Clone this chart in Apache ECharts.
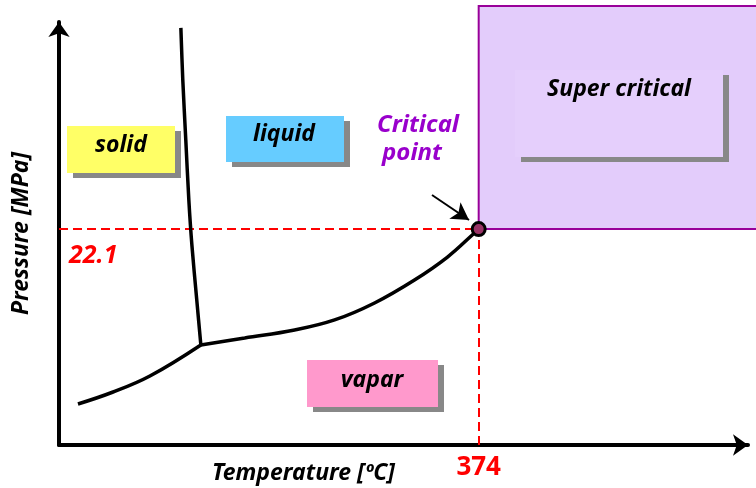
<!DOCTYPE html>
<html>
<head>
<meta charset="utf-8">
<script src="https://cdn.jsdelivr.net/npm/echarts@6/dist/echarts.min.js"></script>
<style>
  html, body { margin: 0; padding: 0; background: #fff; }
  #main { width: 756px; height: 488px; }
</style>
</head>
<body>
<div id="main"></div>
<script>
// phase diagram of water (schematic), temperature [C] vs pressure [MPa]
var criticalPoint = [374, 22.1];
var xTicks = [374];
var yTicks = [22.1];

// solid / liquid boundary (melting curve), from top down to the triple point
var fusionCurve = [
  [108.6, 42.7], [110.3, 37.4], [113.0, 31.2], [115.7, 25.1],
  [118.4, 20.5], [122.8, 14.8], [126.4, 10.24]
];
// solid / vapour boundary (sublimation curve)
var sublimationCurve = [
  [16.9, 4.2], [47.6, 5.4], [81.0, 7.06], [126.4, 10.24]
];
// liquid / vapour boundary, ends at the critical point
var vaporCurve = [
  [126.4, 10.24], [165.5, 10.95], [210.0, 11.77], [245.6, 12.8],
  [281.2, 14.54], [316.8, 16.89], [346.2, 19.24], [370.2, 21.7], [374, 22.1]
];

var FONT = '"Noto Sans", sans-serif';

function labelBox(x, y, w, h, fill, text, tx, ty) {
  return {
    type: 'group',
    children: [
      { type: 'rect', shape: { x: x + 6, y: y + 5, width: w, height: h }, style: { fill: '#888' }, z: 10 },
      { type: 'rect', shape: { x: x, y: y, width: w, height: h }, style: { fill: fill }, z: 11 },
      { type: 'text', x: tx, y: ty, z: 12,
        style: { text: text, fill: '#000', font: 'italic bold 23px ' + FONT, align: 'center', verticalAlign: 'middle' } }
    ]
  };
}

var chart = echarts.init(document.getElementById('main'));

var option = {
  animation: false,
  grid: { left: 59, right: 8, top: 22, bottom: 43, outerBoundsMode: 'none', containLabel: false },
  xAxis: {
    type: 'value', min: 0, max: 614,
    name: 'Temperature [ºC]',
    nameLocation: 'middle', nameGap: 17, nameMoveOverlap: false,
    nameTextStyle: { fontFamily: FONT, fontSize: 23, fontWeight: 'bold', fontStyle: 'italic', color: '#000', padding: [0, 200, 0, 0] },
    axisLine: { lineStyle: { color: '#000', width: 4 }, symbol: ['none', 'arrow'], symbolSize: [16, 15] },
    axisTick: { show: false },
    splitLine: { show: false },
    axisLabel: {
      customValues: xTicks, margin: 10,
      color: '#ff0000', fontFamily: FONT, fontSize: 26, fontWeight: 'bold'
    }
  },
  yAxis: {
    type: 'value', min: 0, max: 43.3,
    name: 'Pressure [MPa]',
    nameLocation: 'middle', nameGap: 26, nameMoveOverlap: false,
    nameTextStyle: { fontFamily: FONT, fontSize: 23, fontWeight: 'bold', fontStyle: 'italic', color: '#000' },
    axisLine: { lineStyle: { color: '#000', width: 4 }, symbol: ['none', 'arrow'], symbolSize: [16, 15] },
    axisTick: { show: false },
    splitLine: { show: false },
    axisLabel: {
      customValues: yTicks, inside: true, margin: 10,
      verticalAlign: 'top', padding: [14, 0, 0, 0],
      color: '#ff0000', fontFamily: FONT, fontSize: 25, fontWeight: 'bold', fontStyle: 'italic'
    }
  },
  series: [
    {
      // supercritical region: right of and above the critical point
      type: 'custom',
      z: 1,
      silent: true,
      data: [criticalPoint],
      renderItem: function (params, api) {
        var p = api.coord([api.value(0), api.value(1)]);
        var top = params.coordSys.y - 16;
        return {
          type: 'rect',
          shape: { x: p[0], y: top, width: api.getWidth() - p[0] + 10, height: p[1] - top },
          style: { fill: '#e3ccfb', stroke: '#990099', lineWidth: 2 }
        };
      }
    },
    {
      type: 'line', z: 3, data: fusionCurve, smooth: 0.3, symbol: 'none',
      lineStyle: { color: '#000', width: 3.5 },
      markLine: {
        silent: true, symbol: 'none', z: 2,
        label: { show: false },
        lineStyle: { color: '#ff0000', width: 2, type: [9, 5] },
        data: [
          [{ coord: [0, criticalPoint[1]] }, { coord: criticalPoint }],
          [{ coord: [criticalPoint[0], 0] }, { coord: criticalPoint }]
        ]
      }
    },
    {
      type: 'line', z: 3, data: sublimationCurve, smooth: 0.4, symbol: 'none',
      lineStyle: { color: '#000', width: 3.5 }
    },
    {
      type: 'line', z: 3, data: vaporCurve, smooth: 0.4, symbol: 'none',
      lineStyle: { color: '#000', width: 3.5 }
    },
    {
      type: 'scatter', z: 5, data: [criticalPoint],
      symbolSize: 13,
      itemStyle: { color: '#993366', borderColor: '#000', borderWidth: 3, opacity: 1 },
      markLine: {
        silent: true, symbol: ['none', 'arrow'], symbolSize: [15, 17],
        label: { show: false },
        lineStyle: { color: '#000', width: 2, type: 'solid' },
        data: [[{ x: 432, y: 195 }, { x: 469, y: 220 }]]
      }
    }
  ],
  graphic: [
    labelBox(67, 126, 108, 47, '#ffff66', 'solid', 121, 145),
    labelBox(226, 116, 118, 46, '#66ccff', 'liquid', 284, 134),
    labelBox(307, 360, 131, 47, '#ff99cc', 'vapar', 372, 380),
    labelBox(515, 70, 208, 87, '#e5cffc', 'Super critical', 619, 89),
    { type: 'text', x: 418, y: 125, z: 12,
      style: { text: 'Critical', fill: '#9900cc', font: 'italic bold 24px ' + FONT, align: 'center', verticalAlign: 'middle' } },
    { type: 'text', x: 412, y: 153, z: 12,
      style: { text: 'point', fill: '#9900cc', font: 'italic bold 24px ' + FONT, align: 'center', verticalAlign: 'middle' } }
  ]
};

chart.setOption(option);
</script>
</body>
</html>
